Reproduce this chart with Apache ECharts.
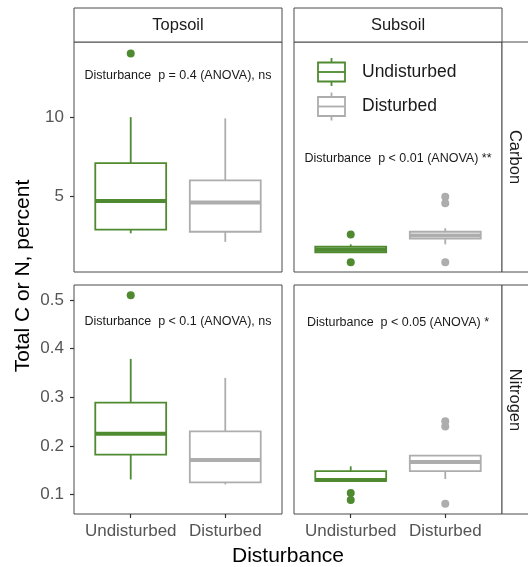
<!DOCTYPE html>
<html>
<head>
<meta charset="utf-8">
<script src="https://cdn.jsdelivr.net/npm/echarts@6/dist/echarts.min.js"></script>
<style>
  html, body { margin: 0; padding: 0; background: #fff; }
  #main { width: 528px; height: 567px; }
</style>
</head>
<body>
<div id="main"></div>
<script>
var categories = ['Undisturbed', 'Disturbed'];
var facetCols = ['Topsoil', 'Subsoil'];
var facetRows = ['Carbon', 'Nitrogen'];

// boxplot stats: [min, q1, median, q3, max], one per category
var topCarbon = [[2.64, 2.87, 4.68, 7.09, 10.0], [2.1, 2.74, 4.6, 5.99, 9.92]];
var topCarbonOut = [[14.03], []];
var subCarbon = [[1.44, 1.44, 1.6, 1.79, 1.94], [1.94, 2.30, 2.51, 2.74, 2.96]];
var subCarbonOut = [[2.57, 0.80], [4.96, 4.54, 0.80]];
var topNitrogen = [[0.131, 0.182, 0.225, 0.289, 0.379], [0.121, 0.125, 0.171, 0.23, 0.34]];
var topNitrogenOut = [[0.51], []];
var subNitrogen = [[0.128, 0.128, 0.130, 0.148, 0.158], [0.132, 0.148, 0.167, 0.18, 0.18]];
var subNitrogenOut = [[0.103, 0.089], [0.251, 0.24, 0.081]];

var carbonTicks = [5, 10];
var nitrogenTicks = [0.1, 0.2, 0.3, 0.4, 0.5];

var notes = [
  'Disturbance  p = 0.4 (ANOVA), ns',
  'Disturbance  p < 0.01 (ANOVA) **',
  'Disturbance  p < 0.1 (ANOVA), ns',
  'Disturbance  p < 0.05 (ANOVA) *'
];
var noteY = [12.66, 7.4, 0.455, 0.453];

var colors = ['#4f8a30', '#adadad'];
var FONT = 'Liberation Sans, Arial, sans-serif';

var panels = [
  {stats: topCarbon, out: topCarbonOut},
  {stats: subCarbon, out: subCarbonOut},
  {stats: topNitrogen, out: topNitrogenOut},
  {stats: subNitrogen, out: subNitrogenOut}
];

var grids = [
  {left: 74, top: 42, width: 208, height: 230},
  {left: 294, top: 42, width: 208, height: 230},
  {left: 74, top: 285, width: 208, height: 229},
  {left: 294, top: 285, width: 208, height: 229}
];
grids.forEach(function(g) {
  g.show = true;
  g.borderColor = '#4a4a4a';
  g.borderWidth = 1;
  g.backgroundColor = 'transparent';
});

var xAxes = [], yAxes = [], series = [];

for (var i = 0; i < 4; i++) {
  var bottom = i >= 2;
  var left = i % 2 === 0;
  xAxes.push({
    type: 'value', gridIndex: i, min: 0.4, max: 2.6,
    axisLine: {show: false},
    splitLine: {show: false},
    axisTick: {show: bottom, customValues: [1, 2], length: 4, lineStyle: {color: '#333', width: 1.2}},
    axisLabel: {
      show: bottom, customValues: [1, 2], margin: 9,
      color: '#555', fontSize: 17, fontFamily: FONT,
      formatter: function(v) { return categories[Math.round(v) - 1]; }
    }
  });
  yAxes.push({
    type: 'value', gridIndex: i,
    min: bottom ? 0.06 : 0.19,
    max: bottom ? 0.531 : 14.76,
    axisLine: {show: false},
    splitLine: {show: false},
    axisTick: {show: left, customValues: bottom ? nitrogenTicks : carbonTicks, length: 4, lineStyle: {color: '#333', width: 1.2}},
    axisLabel: {
      show: left, customValues: bottom ? nitrogenTicks : carbonTicks, margin: 10,
      color: '#555', fontSize: 17, fontFamily: FONT,
      formatter: bottom ? function(v) { return v.toFixed(1); } : function(v) { return String(Math.round(v)); }
    }
  });

  var boxData = panels[i].stats.map(function(s, k) {
    return [k + 1].concat(s).concat([k]);
  });
  series.push({
    type: 'custom', xAxisIndex: i, yAxisIndex: i,
    data: boxData,
    renderItem: function(params, api) {
      var x = api.value(0);
      var c = colors[api.value(6)];
      var half = api.size([0.75, 0])[0] / 2;
      var pMin = api.coord([x, api.value(1)]);
      var pQ1 = api.coord([x, api.value(2)]);
      var pMed = api.coord([x, api.value(3)]);
      var pQ3 = api.coord([x, api.value(4)]);
      var pMax = api.coord([x, api.value(5)]);
      var st = {stroke: c, lineWidth: 1.8, fill: null};
      return {
        type: 'group',
        children: [
          {type: 'line', shape: {x1: pMax[0], y1: pMax[1], x2: pQ3[0], y2: pQ3[1]}, style: st},
          {type: 'line', shape: {x1: pMin[0], y1: pMin[1], x2: pQ1[0], y2: pQ1[1]}, style: st},
          {type: 'rect', shape: {x: pQ3[0] - half, y: pQ3[1], width: half * 2, height: pQ1[1] - pQ3[1]},
            style: {stroke: c, lineWidth: 1.8, fill: '#fff'}},
          {type: 'line', shape: {x1: pMed[0] - half, y1: pMed[1], x2: pMed[0] + half, y2: pMed[1]},
            style: {stroke: c, lineWidth: 4}}
        ]
      };
    }
  });

  var outData = [];
  panels[i].out.forEach(function(list, k) {
    list.forEach(function(v) { outData.push([k + 1, v, k]); });
  });
  series.push({
    type: 'scatter', xAxisIndex: i, yAxisIndex: i,
    symbolSize: 8,
    data: outData,
    itemStyle: {color: function(p) { return colors[p.data[2]]; }, opacity: 1}
  });

  series.push({
    type: 'custom', xAxisIndex: i, yAxisIndex: i,
    data: [[1.5, noteY[i], i]],
    renderItem: function(params, api) {
      var p = api.coord([api.value(0), api.value(1)]);
      return {
        type: 'text', x: p[0], y: p[1],
        style: {text: notes[api.value(2)], textAlign: 'center', textVerticalAlign: 'middle',
          fontSize: 12.5, fontFamily: FONT, fill: '#1a1a1a'}
      };
    }
  });
}

var stripStyle = {fill: '#fff', stroke: '#4a4a4a', lineWidth: 1};
var graphics = [
  {type: 'rect', shape: {x: 74, y: 8, width: 208, height: 34}, style: stripStyle},
  {type: 'rect', shape: {x: 294, y: 8, width: 208, height: 34}, style: stripStyle},
  {type: 'rect', shape: {x: 502, y: 42, width: 40, height: 230}, style: stripStyle},
  {type: 'rect', shape: {x: 502, y: 285, width: 40, height: 229}, style: stripStyle},
  {type: 'text', x: 178, y: 25, style: {text: facetCols[0], textAlign: 'center', textVerticalAlign: 'middle', fontSize: 16.5, fontFamily: FONT, fill: '#1a1a1a'}},
  {type: 'text', x: 398, y: 25, style: {text: facetCols[1], textAlign: 'center', textVerticalAlign: 'middle', fontSize: 16.5, fontFamily: FONT, fill: '#1a1a1a'}},
  {type: 'text', x: 515, y: 157, rotation: -Math.PI / 2, style: {text: facetRows[0], textAlign: 'center', textVerticalAlign: 'middle', fontSize: 16.5, fontFamily: FONT, fill: '#1a1a1a'}},
  {type: 'text', x: 515, y: 400, rotation: -Math.PI / 2, style: {text: facetRows[1], textAlign: 'center', textVerticalAlign: 'middle', fontSize: 16.5, fontFamily: FONT, fill: '#1a1a1a'}},
  {type: 'text', x: 23, y: 276, rotation: Math.PI / 2, style: {text: 'Total C or N, percent', textAlign: 'center', textVerticalAlign: 'middle', fontSize: 21, fontFamily: FONT, fill: '#000'}},
  {type: 'text', x: 288, y: 556, style: {text: 'Disturbance', textAlign: 'center', textVerticalAlign: 'middle', fontSize: 21, fontFamily: FONT, fill: '#000'}}
];

// legend (boxplot keys)
[72, 106.5].forEach(function(cy, k) {
  var c = colors[k];
  graphics.push({type: 'line', shape: {x1: 331.5, y1: cy - 14, x2: 331.5, y2: cy + 14}, style: {stroke: c, lineWidth: 1.8}});
  graphics.push({type: 'rect', shape: {x: 318, y: cy - 9.5, width: 27, height: 19}, style: {stroke: c, lineWidth: 1.8, fill: '#fff'}});
  graphics.push({type: 'line', shape: {x1: 318, y1: cy, x2: 345, y2: cy}, style: {stroke: c, lineWidth: 1.8}});
  graphics.push({type: 'text', x: 362, y: cy, style: {text: categories[k], textVerticalAlign: 'middle', fontSize: 17.5, fontFamily: FONT, fill: '#1a1a1a'}});
});

var chart = echarts.init(document.getElementById('main'));
chart.setOption({
  animation: false,
  backgroundColor: '#fff',
  grid: grids,
  xAxis: xAxes,
  yAxis: yAxes,
  series: series,
  graphic: graphics
});
</script>
</body>
</html>
